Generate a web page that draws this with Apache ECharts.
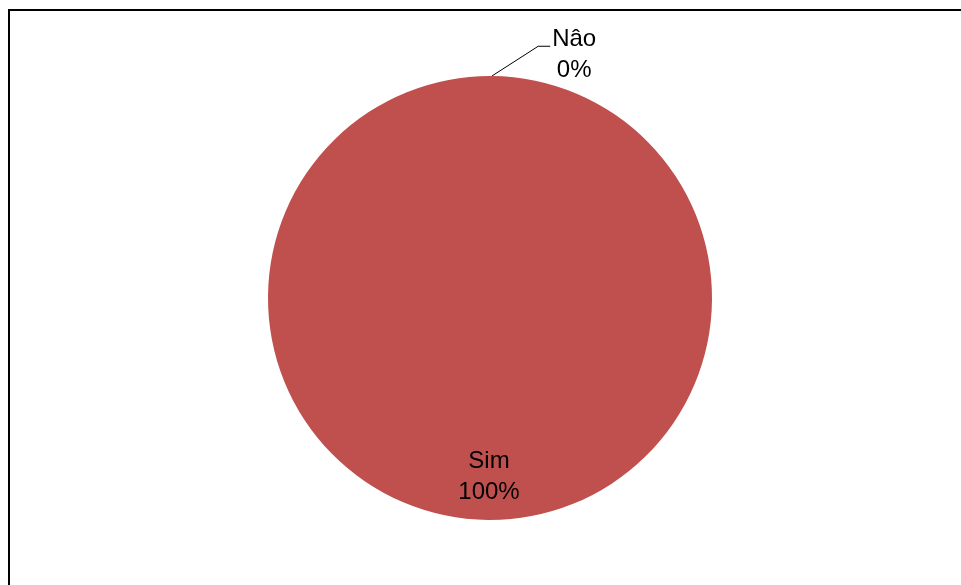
<!DOCTYPE html>
<html><head><meta charset="utf-8">
<script src="https://cdn.jsdelivr.net/npm/echarts@6/dist/echarts.min.js"></script>
<style>html,body{margin:0;padding:0;background:#fff}#c{width:961px;height:585px}</style>
</head><body><div id="c"></div>
<script>
const categories = ['Nâo', 'Sim'];
const values = [0, 100];

const chart = echarts.init(document.getElementById('c'), null, {renderer: 'canvas'});
const font = 'Liberation Sans';
const txt = {fontFamily: font, fontSize: 24, color: '#000'};
const labelStyles = {
  'Nâo': {
    show: true, position: 'outside', distanceToLabelLine: 2,
    formatter: '{h|.}\n{a|{b}}\n{b|{d}%}',
    rich: {
      h: {fontFamily: font, fontSize: 10, lineHeight: 0, color: 'rgba(0,0,0,0)'},
      a: Object.assign({width: 48, align: 'center', lineHeight: 49}, txt),
      b: Object.assign({width: 48, align: 'center', lineHeight: 13}, txt)
    }
  },
  'Sim': {
    show: true, position: 'inside',
    formatter: '{a|{b}}\n{a|{d}%}',
    padding: [129, 0, 0, 0],
    rich: {a: Object.assign({width: 70, align: 'center', lineHeight: 31}, txt)}
  }
};
const data = categories.map((c, i) => ({
  name: c, value: values[i], label: labelStyles[c]
}));

chart.setOption({
  animation: false,
  color: ['#C0504D', '#C0504D'],
  graphic: [{
    type: 'rect', silent: true, z: -1,
    shape: {x: 9, y: 10, width: 1200, height: 1000},
    style: {fill: 'none', stroke: '#000', lineWidth: 2}
  }],
  series: [{
    type: 'pie',
    center: [490, 298],
    radius: 222,
    startAngle: 89.5,
    clockwise: true,
    avoidLabelOverlap: false,
    minShowLabelAngle: 0,
    itemStyle: {borderWidth: 0},
    emphasis: {disabled: true},
    labelLine: {show: true, length: 30, length2: 12, lineStyle: {color: '#000', width: 1}},
    labelLayout: function (p) {
      if (p.dataIndex !== 0) return {};
      // shift the outside label right so the leader runs diagonally (recomputed by ECharts)
      return {x: p.labelRect.x + 44};
    },
    data: data
  }]
});
</script></body></html>
